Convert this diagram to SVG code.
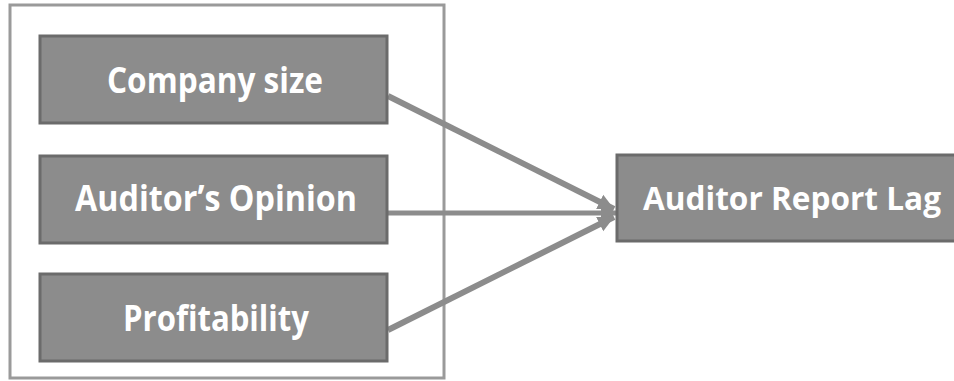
<svg xmlns="http://www.w3.org/2000/svg" width="954" height="381" viewBox="0 0 954 381">
<style>
.box{fill:#8c8c8c;stroke:#6b6b6b;stroke-width:3}
.lbl{fill:#ffffff;font-family:"Open Sans","Noto Sans",sans-serif;font-weight:bold;font-size:35px;text-anchor:middle}
.con{stroke:#8c8c8c;fill:none}
</style>
<defs>
<marker id="ah" viewBox="0 0 10 10" refX="10" refY="5" markerWidth="16" markerHeight="20" markerUnits="userSpaceOnUse" orient="auto">
<path d="M0,0 L10,5 L0,10 Z" fill="#8c8c8c"/>
</marker>
</defs>
<rect id="frame" x="10" y="5" width="434" height="373" fill="none" stroke="#9a9a9a" stroke-width="3"/>
<g id="connectors">
<line class="con" x1="388" y1="96" x2="614" y2="209" stroke-width="6" marker-end="url(#ah)"/>
<line class="con" x1="388" y1="213" x2="617" y2="213" stroke-width="5" marker-end="url(#ah)"/>
<line class="con" x1="388" y1="330" x2="614" y2="217" stroke-width="6" marker-end="url(#ah)"/>
</g>
<g id="company">
<rect class="box" x="40" y="36" width="347" height="87"/>
<text class="lbl" x="215" y="93" textLength="216" lengthAdjust="spacingAndGlyphs">Company size</text>
</g>
<g id="opinion">
<rect class="box" x="40" y="156" width="347" height="87"/>
<text class="lbl" x="216" y="211" textLength="282" lengthAdjust="spacingAndGlyphs">Auditor’s Opinion</text>
</g>
<g id="profit">
<rect class="box" x="40" y="274" width="347" height="87"/>
<text class="lbl" x="216" y="331" textLength="186" lengthAdjust="spacingAndGlyphs">Profitability</text>
</g>
<g id="lag">
<rect class="box" x="617" y="155" width="345" height="86"/>
<text class="lbl" x="792" y="210" style="font-size:33px" textLength="298" lengthAdjust="spacingAndGlyphs">Auditor Report Lag</text>
</g>
</svg>
